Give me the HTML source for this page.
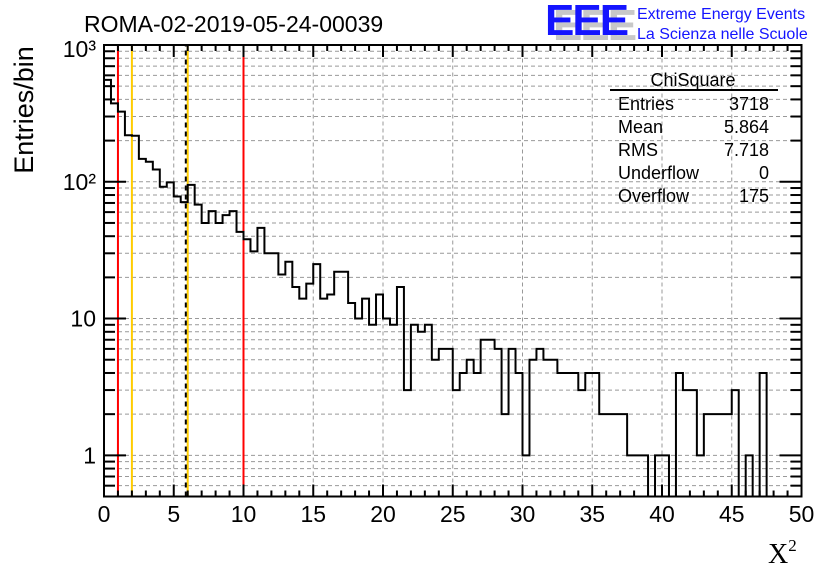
<!DOCTYPE html>
<html><head><meta charset="utf-8"><style>
body{margin:0;background:#fff;}
svg{display:block;font-family:"Liberation Sans",sans-serif;}
</style></head><body>
<svg id="c" width="836" height="572" viewBox="0 0 836 572">
<rect width="836" height="572" fill="#fff"/>
<g id="grid"></g><g id="vlines"></g>
<path id="hist" d="" fill="none" stroke="#000" stroke-width="2"/>
<rect x="104" y="45" width="697.5" height="451.5" fill="none" stroke="#000" stroke-width="2"/>
<g id="ticks"></g>
<text x="84" y="32" font-size="23">ROMA-02-2019-05-24-00039</text>
<text transform="translate(33,110) rotate(-90)" text-anchor="middle" font-size="27">Entries/bin</text>
<text x="768" y="563" font-size="28" font-family="Liberation Serif,serif">X<tspan font-size="17" dy="-12">2</tspan></text>
<g>
<text x="553" y="40" font-size="44" font-weight="bold" fill="#c8c8c8" letter-spacing="-2">EEE</text>
<text x="545" y="35" font-size="44" font-weight="bold" fill="#1414ff" letter-spacing="-2">EEE</text>
<text x="637" y="19" font-size="16" fill="#1414ff">Extreme Energy Events</text>
<text x="637" y="39" font-size="16" fill="#1414ff">La Scienza nelle Scuole</text>
</g>
<g font-size="18">
<text x="693" y="86" text-anchor="middle">ChiSquare</text>
<line x1="610" y1="90" x2="778" y2="90" stroke="#000" stroke-width="2"/>
<text x="618" y="110">Entries</text><text x="769" y="110" text-anchor="end">3718</text>
<text x="618" y="133">Mean</text><text x="769" y="133" text-anchor="end">5.864</text>
<text x="618" y="156">RMS</text><text x="769" y="156" text-anchor="end">7.718</text>
<text x="618" y="179">Underflow</text><text x="769" y="179" text-anchor="end">0</text>
<text x="618" y="202">Overflow</text><text x="769" y="202" text-anchor="end">175</text>
</g>
</svg>
<script>
const binCounts=[556,374,326,219,217,147,140,123,92,99,78,71,95,68,50,61,50,57,61,43,38,31,46,30,30,21,26,17,14,18,25,14,15,22,22,13,10,14,9,15,10,9,17,3,9,8,9,5,6,6,3,4,5,4,7,7,6,2,6,4,1,5,6,5,5,4,4,4,3,4,4,2,2,2,2,1,1,1,0,1,1,0,4,3,3,1,2,2,2,2,3,0,1,0,4,0,0,0,0,0];
const xTickLabels=[0,5,10,15,20,25,30,35,40,45,50];
const yDecades=[1,10,100,1000];
const yDecadeLabels=["1","10","10²","10³"];
const markerX=[1,2,6,10];
const markerColors=["#f00","#fc0","#fc0","#f00"];
const meanValue=5.864;
const NS="http://www.w3.org/2000/svg";
const X0=104,X1=801.5,Y0=496.5,Y1=45,ymin=0.5,ymax=1000;
const sx=v=>X0+(v/50)*(X1-X0);
const lmin=Math.log10(ymin),lmax=Math.log10(ymax);
const sy=v=>Y0-(Math.log10(Math.max(v,ymin))-lmin)/(lmax-lmin)*(Y0-Y1);
function mk(t,a,p){const e=document.createElementNS(NS,t);for(const k in a)e.setAttribute(k,a[k]);p.appendChild(e);return e;}
const grid=document.getElementById('grid'),ticks=document.getElementById('ticks'),vl=document.getElementById('vlines');
const dash={stroke:"#999","stroke-width":1,"stroke-dasharray":"4,3"};
xTickLabels.forEach(v=>{if(v>0&&v<50){const l=mk('line',Object.assign({x1:sx(v),x2:sx(v),y1:Y0,y2:Y1},dash),grid);

}});
for(let d=0;d<3;d++)for(let m=1;m<=9;m++){const v=yDecades[d]*m;if(v<=ymin)continue;
const l=mk('line',Object.assign({x1:X0,x2:X1,y1:sy(v),y2:sy(v)},dash),grid);

}
for(let v=5;v<=9;v++){const l=mk('line',Object.assign({x1:X0,x2:X1,y1:sy(v/10),y2:sy(v/10)},dash),grid);

}
markerX.forEach((v,i)=>{const l=mk('line',{x1:sx(v),x2:sx(v),y1:Y0,y2:Y1,stroke:markerColors[i],"stroke-width":2},vl);

});
const ml=mk('line',{x1:sx(meanValue),x2:sx(meanValue),y1:Y0,y2:Y1,stroke:"#000","stroke-width":2,"stroke-dasharray":"5,4"},vl);


// histogram
let d="",w=50/binCounts.length;
binCounts.forEach((c,i)=>{const x0=sx(i*w),x1=sx((i+1)*w),y=sy(c);
d+=(i==0?"M"+x0+","+Y0+"L"+x0+","+y:"L"+x0+","+y)+"L"+x1+","+y;});
d+="L"+X1+","+Y0;
document.getElementById('hist').setAttribute('d',d);
// x ticks
for(let v=0;v<=50;v++){const L=v%5==0?12:6,x=sx(v);
mk('line',{x1:x,x2:x,y1:Y0,y2:Y0-L,stroke:"#000","stroke-width":2},ticks);
mk('line',{x1:x,x2:x,y1:Y1,y2:Y1+L,stroke:"#000","stroke-width":2},ticks);}
xTickLabels.forEach(v=>{const t=mk('text',{x:sx(v),y:522,"text-anchor":"middle","font-size":23},ticks);t.textContent=v;

});
// y ticks
const yt=[];for(let v=5;v<=9;v++)yt.push([v/10,false]);
for(let d2=0;d2<3;d2++)for(let m=1;m<=9;m++)yt.push([yDecades[d2]*m,m==1]);yt.push([1000,true]);
yt.forEach(([v,maj])=>{const y=sy(v),L=maj?22:11;
mk('line',{x1:X0,x2:X0+L,y1:y,y2:y,stroke:"#000","stroke-width":2},ticks);
mk('line',{x1:X1,x2:X1-L,y1:y,y2:y,stroke:"#000","stroke-width":2},ticks);});
yDecades.forEach((v,i)=>{const t=mk('text',{x:96,y:sy(v)+(i==3?12:8),"text-anchor":"end","font-size":23},ticks);
t.textContent=yDecadeLabels[i];

});
</script>
</body></html>
